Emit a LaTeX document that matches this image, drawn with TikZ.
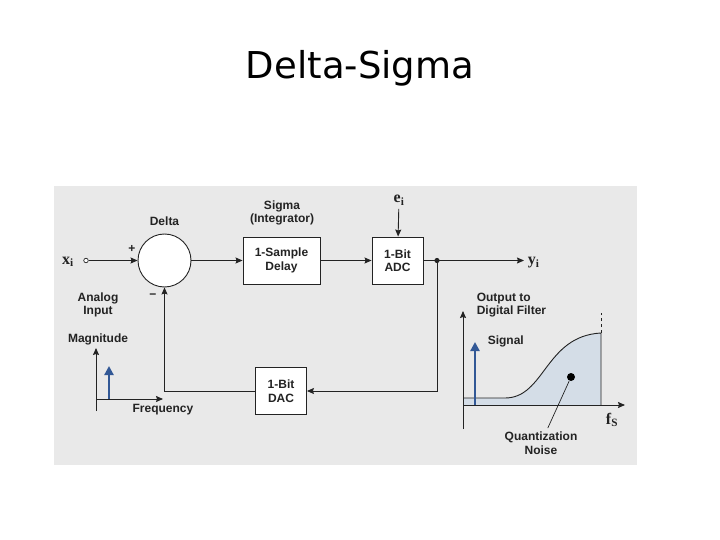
\documentclass[tikz,border=0pt]{standalone}
\usepackage{fontspec}
\setmainfont{Liberation Sans}
\newfontfamily\titlefont{DejaVu Sans}
\newfontfamily\symfont{Liberation Serif}
\usetikzlibrary{arrows,arrows.meta,positioning,calc}
\definecolor{panelgray}{RGB}{233,233,233}
\definecolor{linegray}{RGB}{35,35,35}
\definecolor{sigblue}{RGB}{50,88,150}
\definecolor{noisefill}{RGB}{212,221,231}

\begin{document}
\begin{tikzpicture}[
    x=1pt, y=-1pt,
    line width=0.9pt,
    every node/.style={font=\fontsize{12}{13.5}\selectfont\bfseries, align=center, text=linegray},
    block/.style={rectangle, draw=linegray, fill=white, minimum width=77pt, minimum height=47pt, inner sep=0pt},
    smallblock/.style={block, minimum width=51pt},
    sumnode/.style={circle, draw=linegray, fill=white, minimum size=53pt, inner sep=0pt},
    var/.style={font=\symfont\fontsize{16}{16}\selectfont\bfseries},
    arrow/.style={->, >={Stealth[length=7pt,width=6pt,inset=1pt]}, draw=linegray},
    sig/.style={-{Triangle[length=9pt,width=9pt]}, sigblue, line width=2.2pt}
]
    \useasboundingbox (0,0) rectangle (720,540);
    \fill[white] (0,0) rectangle (720,540);
    \fill[panelgray] (54,186) rectangle (637,465);
    \node[font=\titlefont\fontsize{37}{40}\selectfont, text=black] (title) at (360,68) {Delta-Sigma};

    % loop blocks
    \node[sumnode] (delta) at (164.5,260.5) {};
    \node[block] (delay) at (281.5,260.5) {1-Sample\\Delay};
    \node[smallblock] (adc) at (397.5,260.5) {1-Bit\\ADC};
    \node[smallblock] (dac) at (281,391) {1-Bit\\DAC};
    \node[above=4pt of delta] (deltalbl) {Delta};
    \node (sigmalbl) at (282,213) {Sigma\\(Integrator)};
    \node (plus) at (132,249) {+};
    \node (minus) at (153,296) {−};

    % signals
    \node[var] (xi) at (68,262) {x\textsubscript{i}};
    \node[circle, draw=linegray, fill=white, inner sep=0pt, minimum size=4.5pt, line width=0.7pt] (xin) at (86,260.5) {};
    \node[var] (ei) at (399,200) {e\textsubscript{i}};
    \node[var, anchor=west] (yi) at (524,263) {y\textsubscript{i}};
    \coordinate (split) at (437,260.5);
    \fill[linegray] (split) circle (2.6);

    \draw[arrow] (xin) -- (delta);
    \draw[arrow] (delta) -- (delay);
    \draw[arrow] (delay) -- (adc);
    \draw[arrow] (ei) -- (adc);
    \draw[linegray] (adc) -- (split);
    \draw[arrow] (split) -- (split -| yi.west);
    \draw[arrow] (split) |- (dac);
    \draw[arrow] (dac) -| (delta);

    % input spectrum
    \node (analog) at (98,305) {Analog\\Input};
    \node (mag) at (98,339) {Magnitude};
    \node (freq) at (163,410) {Frequency};
    \coordinate (inorig) at (96,399);
    \draw[arrow] (96,411) -- (96,348);
    \draw[arrow] (inorig) -- (163,399);
    \draw[sig] (109,399) -- (109,366);

    % output spectrum
    \coordinate (outorig) at (463,405);
    \coordinate (fsedge) at (601,333);
    \fill[noisefill] (463,405) -- (463,398) -- (505,398)
        .. controls (545,398) and (545,336) .. (fsedge) -- (601,405) -- cycle;
    \draw[linegray] (463,398) -- (505,398)
        .. controls (545,398) and (545,336) .. (fsedge) -- (601,405);
    \draw[linegray, dashed, line width=0.6pt] (fsedge) -- (601,313);
    \draw[arrow] (463,429) -- (463,311);
    \draw[arrow] (outorig) -- (625,405);
    \draw[sig] (475,405) -- (475,342);
    \node[anchor=west, align=left] (outlbl) at (473,305) {Output to\\Digital Filter};
    \node[anchor=west] (siglbl) at (484,341) {Signal};
    \node[var] (fs) at (612,420) {f\textsubscript{S}};
    \node[circle, fill=black, inner sep=0pt, minimum size=8pt] (qdot) at (571,377) {};
    \node (qnoise) at (541,443) {Quantization\\Noise};
    \draw[linegray, line width=0.7pt] (qdot) -- (qnoise);
\end{tikzpicture}
\end{document}
